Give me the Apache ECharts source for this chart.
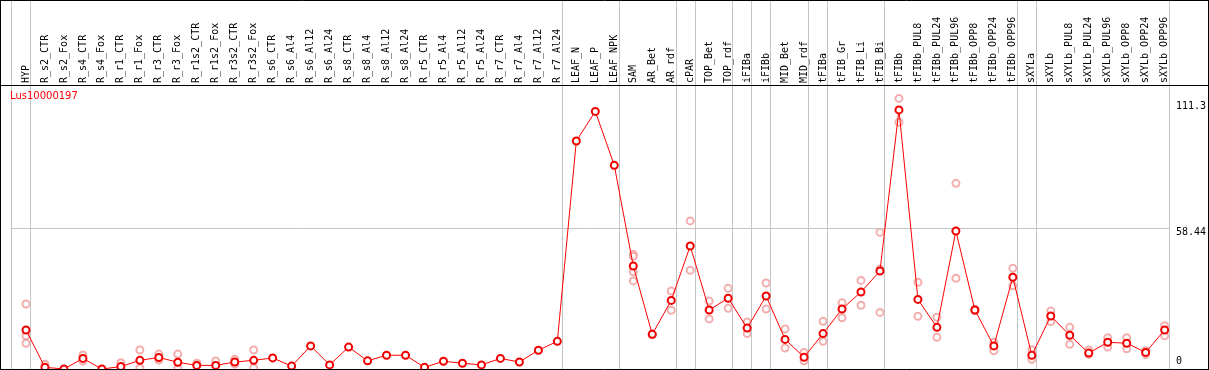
<!DOCTYPE html>
<html><head><meta charset="utf-8">
<script src="https://cdn.jsdelivr.net/npm/echarts@6/dist/echarts.min.js"></script>
<style>html,body{margin:0;padding:0;background:#fff;overflow:hidden}#c{width:1209px;height:370px}</style>
</head><body><div id="c"></div>
<script>
const chartTitle = 'Lus10000197';
const categories = ['HYP','R_s2_CTR','R_s2_Fox','R_s4_CTR','R_s4_Fox','R_r1_CTR','R_r1_Fox','R_r3_CTR','R_r3_Fox','R_r1s2_CTR','R_r1s2_Fox','R_r3s2_CTR','R_r3s2_Fox','R_s6_CTR','R_s6_Al4','R_s6_Al12','R_s6_Al24','R_s8_CTR','R_s8_Al4','R_s8_Al12','R_s8_Al24','R_r5_CTR','R_r5_Al4','R_r5_Al12','R_r5_Al24','R_r7_CTR','R_r7_Al4','R_r7_Al12','R_r7_Al24','LEAF_N','LEAF_P','LEAF_NPK','SAM','AR_Bet','AR_rdf','cPAR','TOP_Bet','TOP_rdf','iFIBa','iFIBb','MID_Bet','MID_rdf','tFIBa','tFIB_Gr','tFIB_Li','tFIB_Bi','tFIBb','tFIBb_PUL8','tFIBb_PUL24','tFIBb_PUL96','tFIBb_OPP8','tFIBb_OPP24','tFIBb_OPP96','sXYLa','sXYLb','sXYLb_PUL8','sXYLb_PUL24','sXYLb_PUL96','sXYLb_OPP8','sXYLb_OPP24','sXYLb_OPP96'];
const means = [16.2,0.7,0,4.4,0,1.0,3.6,4.8,2.8,1.5,1.5,2.9,3.6,4.6,1.2,9.6,1.7,9.1,3.4,5.7,5.7,0.7,3.2,2.4,1.7,4.4,2.9,7.8,11.5,
  94.7,107.0,84.6,42.8,14.4,28.5,51.1,24.5,29.4,17.0,30.3,12.3,4.9,14.7,24.9,32.0,40.7,107.6,28.9,17.3,57.3,24.5,9.6,38.1,5.7,22.0,14.0,6.6,11.1,10.7,6.9,16.2];
const rep1 = [27.0,2.0,null,5.8,null,2.6,7.9,6.2,6.2,2.4,3.3,4.0,7.9,null,null,null,null,null,null,null,null,null,null,null,null,null,null,null,null,
  null,null,null,47.6,14.6,32.4,61.5,28.2,33.5,19.5,35.7,16.6,6.9,19.8,27.5,36.8,56.8,112.4,36.0,21.5,77.1,24.8,11.1,41.8,8.0,24.1,17.3,7.9,13.0,13.0,7.6,18.0];
const rep2 = [13.8,null,null,3.3,null,null,0.4,3.7,0.2,null,null,2.0,0.4,null,null,null,null,null,null,null,null,null,null,null,null,null,null,null,null,
  null,null,null,46.8,14.2,24.4,41.0,20.8,25.2,14.7,24.9,8.7,3.4,11.5,21.3,26.5,41.5,102.5,21.9,13.2,37.7,24.2,7.6,34.6,4.0,19.7,10.3,6.1,9.1,8.4,6.0,13.8];
const rep3 = [10.7,null,null,null,null,null,null,null,null,null,null,null,null,null,null,null,null,null,null,null,null,null,null,null,null,null,null,null,null,
  null,null,null,40.4,null,null,null,null,null,null,null,null,null,null,null,null,23.5,null,null,null,null,null,null,null,null,null,null,null,null,null,null,null];
const rep4 = [null,null,null,null,null,null,null,null,null,null,null,null,null,null,null,null,null,null,null,null,null,null,null,null,null,null,null,null,null,
  null,null,null,36.6,null,null,null,null,null,null,null,null,null,null,null,null,null,null,null,null,null,null,null,null,null,null,null,null,null,null,null,null];
const separatorsAfter = [-1,0,28,31,34,35,37,38,39,41,42,45,52,53,60];
const gridLineValues = [58.44];
const tickValues = [0,58.44,111.3];
const tickLabels = ['0','58.44','111.3'];

const SEP_OFF = 0.237;
const repData = [];
[rep1,rep2,rep3,rep4].forEach(r => r.forEach((v,i) => { if (v !== null) repData.push([i,v]); }));
const meanData = means.map((v,i) => [i,v]);

const chart = echarts.init(document.getElementById('c'), null, {renderer:'canvas'});
const mono = 'DejaVu Sans Mono';
const labelRich = {
  a: {fontFamily: mono, fontSize: 10, color: '#000', padding: [11,0,0,0]},
  b: {fontFamily: mono, fontSize: 10, color: '#000', padding: [8,0,0,0]},
  c: {fontFamily: mono, fontSize: 10, color: '#000', padding: [0,0,15,0]}
};
chart.setOption({
  animation: false,
  backgroundColor: '#fff',
  title: {text: chartTitle, left: 10, top: 91, padding: 0,
    textStyle: {color: '#ff0000', fontFamily: 'DejaVu Sans', fontSize: 10, fontWeight: 'normal'}},
  grid: {left: 7, top: 0, width: 1171, height: 369, containLabel: false},
  xAxis: {type: 'value', position: 'top', offset: -85, min: -1, max: -1 + 1171/19.012, interval: 1,
    axisLine: {show: false}, axisTick: {show: false}, splitLine: {show: false},
    axisLabel: {rotate: 90, margin: 2, fontFamily: mono, fontSize: 10, color: '#000',
      showMinLabel: true, showMaxLabel: true,
      formatter: v => categories[Math.round(v)] !== undefined && Math.abs(v - Math.round(v)) < 1e-6 ? categories[Math.round(v)] : ''}},
  yAxis: {type: 'value', position: 'right', min: 0, max: 369/2.4076,
    axisLine: {show: false}, axisTick: {show: false}, splitLine: {show: false},
    axisLabel: {customValues: tickValues, margin: 0, align: 'left',
      formatter: v => {
        const k = tickValues.findIndex(t => Math.abs(t - v) < 1e-6);
        const s = k >= 0 ? tickLabels[k] : '';
        const st = k === 0 ? 'c' : (k === 1 ? 'b' : 'a');
        return '{' + st + '|' + s + '}';
      }, rich: labelRich}},
  graphic: [
    {type:'line', shape:{x1:0.5,y1:0,x2:0.5,y2:370}, style:{stroke:'#000',lineWidth:1}, z:100},
    {type:'line', shape:{x1:1208.5,y1:0,x2:1208.5,y2:370}, style:{stroke:'#000',lineWidth:1}, z:100},
    {type:'line', shape:{x1:0,y1:0.5,x2:1209,y2:0.5}, style:{stroke:'#000',lineWidth:1}, z:100},
    {type:'line', shape:{x1:0,y1:85.5,x2:1209,y2:85.5}, style:{stroke:'#000',lineWidth:1}, z:100},
    {type:'line', shape:{x1:0,y1:369.5,x2:1209,y2:369.5}, style:{stroke:'#000',lineWidth:1}, z:100}
  ],
  series: [
    {type: 'line', data: [], silent: true, z: 1,
      markLine: {silent: true, symbol: 'none', animation: false, label: {show: false},
        lineStyle: {color: '#c4c4c4', width: 1, type: 'solid'},
        data: separatorsAfter.map(k => ({xAxis: k + SEP_OFF})).concat(
          gridLineValues.map(g => [{coord: [separatorsAfter[0] + SEP_OFF, g]}, {coord: [separatorsAfter[separatorsAfter.length-1] + SEP_OFF, g]}]))}},
    {type: 'scatter', data: repData, symbol: 'emptyCircle', symbolSize: 7, z: 3,
      itemStyle: {color: '#f09a9a', borderColor: '#f09a9a', borderWidth: 1.2}},
    {type: 'line', data: meanData, symbol: 'emptyCircle', symbolSize: 7, z: 5,
      lineStyle: {color: '#ff0000', width: 1},
      itemStyle: {color: '#f00000', borderColor: '#f00000', borderWidth: 2}}
  ]
});
</script></body></html>
